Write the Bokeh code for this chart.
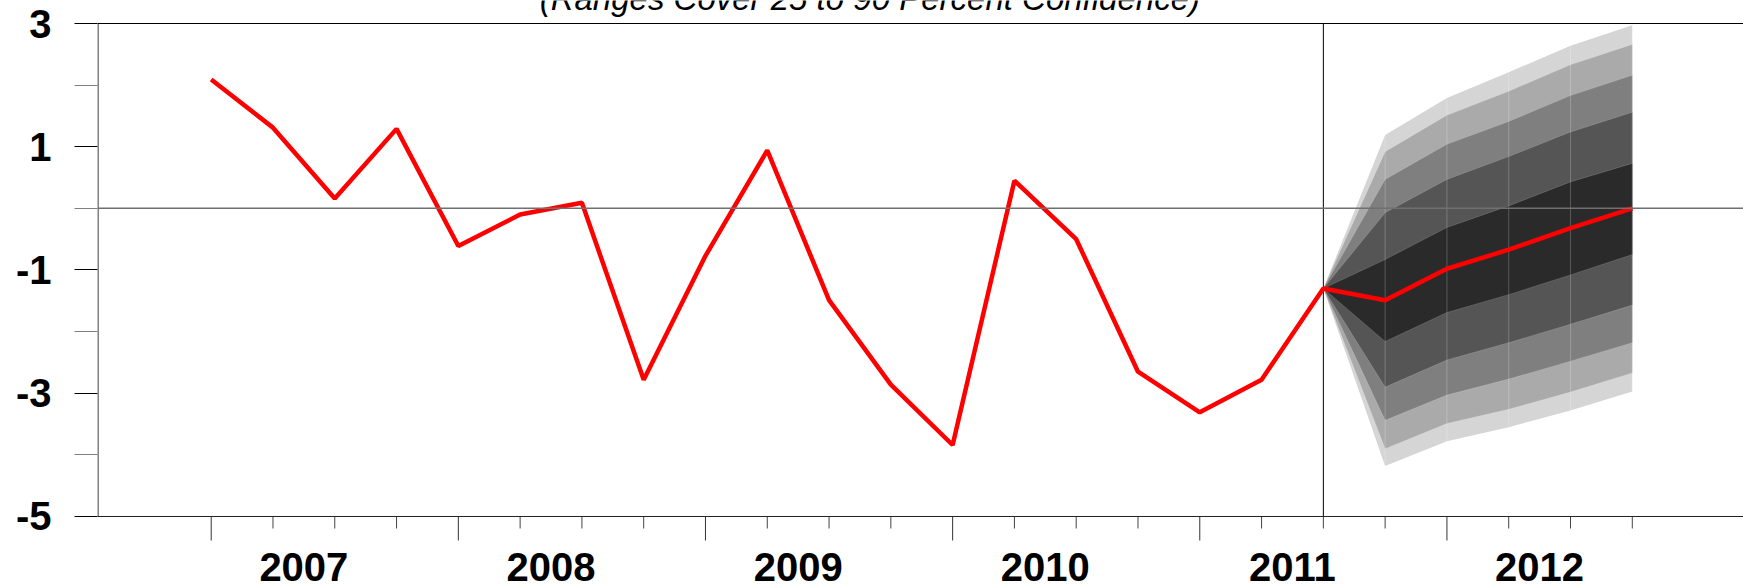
from bokeh.plotting import figure
from bokeh.models import Range1d, FixedTicker, Span, Label
from bokeh.core.properties import value
from bokeh.embed import file_html
from bokeh.resources import INLINE

# ---------------- data ----------------
# quarterly index: 0 = 2007Q1 ... 23 = 2012Q4
quarter_idx = list(range(24))
history = [2.09, 1.31, 0.16, 1.29, -0.61, -0.10, 0.09, -2.78,
           -0.77, 0.94, -1.49, -2.86, -3.84, 0.45, -0.50, -2.65,
           -3.31, -2.78, -1.30]
forecast = [-1.49, -0.98, -0.67, -0.32, 0.00]

# fan chart: 2011Q3 .. 2012Q4 (index 18..23), inner band -> outer band
fan_x = [18, 19, 20, 21, 22, 23]
hi_1 = [-1.30, -0.83, -0.31, 0.04, 0.43, 0.73]
hi_2 = [-1.30, -0.07, 0.47, 0.84, 1.24, 1.56]
hi_3 = [-1.30, 0.47, 1.04, 1.41, 1.83, 2.16]
hi_4 = [-1.30, 0.92, 1.51, 1.90, 2.33, 2.66]
hi_5 = [-1.30, 1.19, 1.79, 2.21, 2.64, 2.97]
lo_1 = [-1.30, -2.16, -1.69, -1.40, -1.08, -0.75]
lo_2 = [-1.30, -2.90, -2.46, -2.18, -1.88, -1.57]
lo_3 = [-1.30, -3.44, -3.03, -2.77, -2.48, -2.18]
lo_4 = [-1.30, -3.90, -3.49, -3.26, -2.98, -2.67]
lo_5 = [-1.30, -4.18, -3.78, -3.55, -3.28, -2.97]
band_colors = ["#2a2a2a", "#555555", "#7f7f7f", "#aaaaaa", "#d5d5d5"]

y_major = [3, 1, -1, -3, -5]
y_major_labels = ["3", "1", "-1", "-3", "-5"]
y_minor = [2, 0, -2, -4]
year_starts = [0, 4, 8, 12, 16, 20]
other_quarters = [i for i in range(24) if i % 4 != 0]
year_labels = ["2007", "2008", "2009", "2010", "2011", "2012"]
year_pos = [1.5, 5.5, 9.5, 13.5, 17.5, 21.5]
forecast_start = 18
title_text = "(Ranges Cover 25 to 90 Percent Confidence)"

FONT = "Liberation Sans"
Y_TOP, Y_BOT = 3.0, -5.0          # plotted value range
PX = 61.62                        # pixels per unit (vertical)

p = figure(width=1743, height=587,
           x_range=Range1d(-1.84, 24.80),
           y_range=Range1d(Y_BOT - 71 / PX, Y_TOP + 23 / PX),
           output_backend="svg", toolbar_location=None,
           min_border_left=97, min_border_right=0,
           min_border_top=0, min_border_bottom=0)
p.xgrid.visible = False
p.ygrid.visible = False
p.xaxis.visible = False
p.outline_line_color = None
p.background_fill_color = "white"
p.border_fill_color = "white"

# fan bands, outer first
bands = [(lo_5, hi_5), (lo_4, hi_4), (lo_3, hi_3), (lo_2, hi_2), (lo_1, hi_1)]
for (lo, hi), col in zip(bands, band_colors[::-1]):
    p.varea(x=fan_x, y1=lo, y2=hi, fill_color=col, fill_alpha=1.0)

# faint seams
for b in [hi_1, hi_2, hi_3, hi_4, lo_1, lo_2, lo_3, lo_4]:
    p.line(fan_x, b, line_color="white", line_alpha=0.18, line_width=0.8)
p.segment(x0=fan_x[1:], y0=lo_5[1:], x1=fan_x[1:], y1=hi_5[1:],
          line_color="white", line_alpha=0.22, line_width=1)

# reference lines
p.add_layout(Span(location=0, dimension="width", line_color="#707070", line_width=1.5))
p.add_layout(Span(location=Y_TOP, dimension="width", line_color="black", line_width=1))
p.add_layout(Span(location=Y_BOT, dimension="width", line_color="#222222", line_width=1))
p.segment(x0=[forecast_start], y0=[Y_BOT], x1=[forecast_start], y1=[Y_TOP],
          line_color="black", line_width=1)
# left axis line (just inside the frame edge)
p.segment(x0=[-1.84 + 0.008], y0=[Y_BOT], x1=[-1.84 + 0.008], y1=[Y_TOP],
          line_color="black", line_width=1)

# red line
p.line(quarter_idx, history + forecast, line_color="#ff0000", line_width=4.5)

# x ticks: long at year starts, short at other quarters
p.segment(x0=year_starts, y0=[Y_BOT] * len(year_starts),
          x1=year_starts, y1=[Y_BOT - 24 / PX] * len(year_starts),
          line_color="#333333", line_width=1)
p.segment(x0=other_quarters, y0=[Y_BOT] * len(other_quarters),
          x1=other_quarters, y1=[Y_BOT - 12 / PX] * len(other_quarters),
          line_color="#444444", line_width=1)

# year labels
p.text(x=year_pos, y=[Y_BOT - 50.5 / PX] * len(year_pos), text=year_labels,
       text_align="center", text_baseline="alphabetic",
       text_font=value(FONT), text_font_size="40px",
       text_font_style="bold", text_color="black")

# y axis
ya = p.yaxis[0]
ya.ticker = FixedTicker(ticks=y_major, minor_ticks=y_minor)
ya.major_label_overrides = dict(zip(y_major, y_major_labels))
ya.axis_line_color = None
ya.major_tick_out = 23
ya.major_tick_in = 0
ya.minor_tick_out = 23
ya.minor_tick_in = 0
ya.major_tick_line_color = "black"
ya.minor_tick_line_color = "#808080"
ya.major_label_text_font = FONT
ya.major_label_text_font_size = "40px"
ya.major_label_text_font_style = "bold"
ya.major_label_text_color = "black"
ya.major_label_standoff = 23

# title (cut at top as in the reference)
p.add_layout(Label(x=10.66, y=Y_TOP + 24.5 / PX, text=title_text, text_align="center",
                   text_baseline="alphabetic", text_font=FONT,
                   text_font_size="33px", text_font_style="italic",
                   text_color="black"))

open("out.html", "w").write(file_html(p, INLINE))
